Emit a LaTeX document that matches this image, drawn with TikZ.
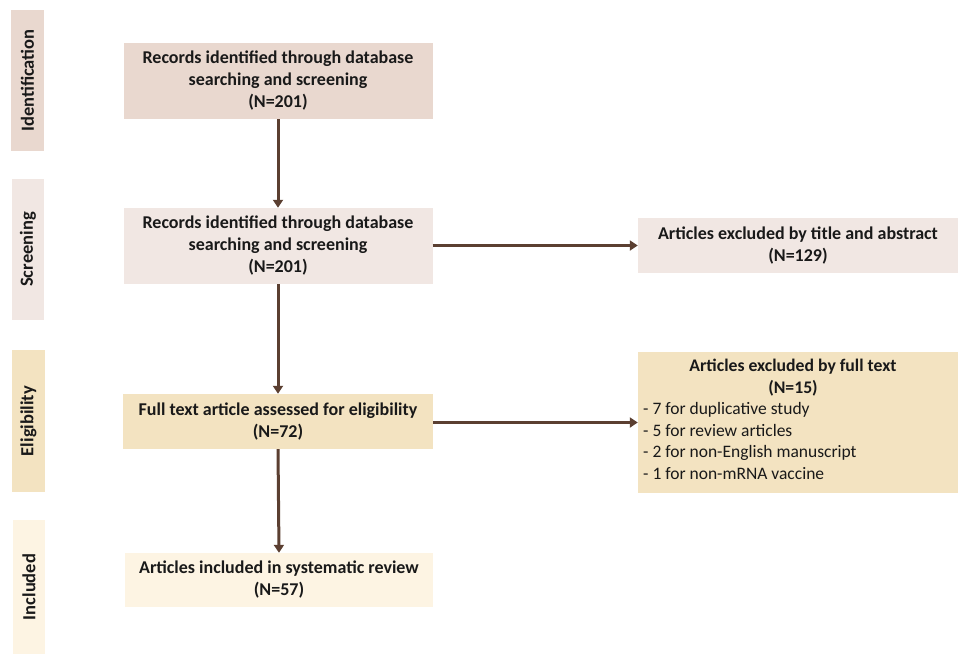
\documentclass[tikz,border=0pt]{standalone}
\usepackage{fontspec}
\setmainfont{Carlito}
\usetikzlibrary{arrows.meta}
\definecolor{cident}{HTML}{E9D8CF}
\definecolor{cscreen}{HTML}{F1E7E3}
\definecolor{celig}{HTML}{F3E3C1}
\definecolor{cincl}{HTML}{FDF4E3}
\definecolor{carrow}{HTML}{5B3F31}
\tikzset{
  mainbox/.style={fill=#1, draw=none, inner sep=0pt, align=center,
    font=\fontsize{18}{22}\selectfont\bfseries, text=black!90},
  stagebox/.style={fill=#1, draw=none, inner sep=0pt, rotate=90,
    font=\fontsize{18.5}{22}\selectfont\bfseries, text=black!90},
  flow/.style={draw=carrow, line width=3pt, -{Triangle[length=8pt,width=10pt]}},
}
\begin{document}
\begin{tikzpicture}[x=1pt,y=-1pt]
\useasboundingbox (0,0) rectangle (959,654);
% stage labels
\node[stagebox=cident, minimum width=141pt, minimum height=33pt] (sid) at (27.5,80.5) {Identification};
\node[stagebox=cscreen, minimum width=141pt, minimum height=32pt] (ssc) at (28,249.5) {Screening};
\node[stagebox=celig, minimum width=142pt, minimum height=33pt] (sel) at (28.5,421) {Eligibility};
\node[stagebox=cincl, minimum width=134pt, minimum height=32pt] (sin) at (29,587) {Included};
% main boxes
\node[mainbox=cident, minimum width=309pt, minimum height=76pt] (b1) at (278,81)
  {Records identified through database\\searching and screening\\(N=201)};
\node[mainbox=cscreen, minimum width=309pt, minimum height=76pt] (b2) at (278,246)
  {Records identified through database\\searching and screening\\(N=201)};
\node[mainbox=celig, minimum width=310pt, minimum height=55pt] (b3) at (278,421.5)
  {Full text article assessed for eligibility\\(N=72)};
\node[mainbox=cincl, minimum width=308pt, minimum height=54pt] (b4) at (279,580)
  {Articles included in systematic review\\(N=57)};
% right boxes
\node[mainbox=cscreen, minimum width=320pt, minimum height=55pt] (r1) at (798,245.5)
  {Articles excluded by title and abstract\\(N=129)};
\node[mainbox=celig, minimum width=320pt, minimum height=141pt] (r2) at (798,422.5) {};
\node[font=\fontsize{17.7}{21.7}\selectfont\bfseries, text=black!90, align=center, anchor=north, inner sep=0pt]
  (r2t) at (793,359) {Articles excluded by full text\\(N=15)};
\node[font=\fontsize{17.5}{21.7}\selectfont, text=black!90, align=left, anchor=north west, inner sep=0pt]
  (r2l) at (643,402) {- 7 for duplicative study\\- 5 for review articles\\- 2 for non-English manuscript\\- 1 for non-mRNA vaccine};
% connectors
\draw[flow] (b1.south) -- (b2.north);
\draw[flow] (b2.south) -- (b3.north);
\draw[flow] (b3.south) -- (b4.north);
\draw[flow] (b2.east |- r1.west) -- (r1.west);
\draw[flow] (b3.east |- r2.west) -- (r2.west);
\end{tikzpicture}
\end{document}
